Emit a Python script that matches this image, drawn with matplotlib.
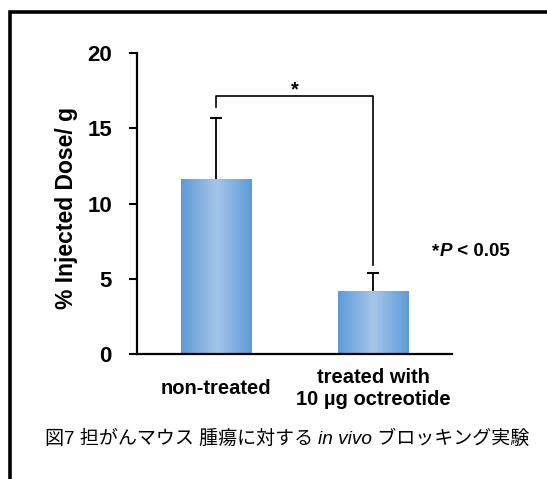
import numpy as np
import matplotlib
matplotlib.use("Agg")
import matplotlib.pyplot as plt
from matplotlib.lines import Line2D
from matplotlib.colors import LinearSegmentedColormap

plt.rcParams['font.family'] = ['Liberation Sans', 'Noto Sans CJK JP', 'DejaVu Sans']

# ---- data ----
categories = ["non-treated", "treated with\n10 \u00b5g octreotide"]
values = [11.6, 4.2]
errors = [4.1, 1.2]
y_ticks = [0, 5, 10, 15, 20]
ylabel = "% Injected Dose/ g"
caption_a = "図7 担がんマウス 腫瘍に対する "
caption_b = "in vivo"
caption_c = " ブロッキング実験"

W, H = 547, 479
fig = plt.figure(figsize=(W / 100, H / 100), dpi=100)
ax = fig.add_axes([137 / W, 1 - 354 / H, (452 - 137) / W, (354 - 53) / H])

x = np.arange(len(values))
vals = np.array(values)
errs = np.array(errors)
bw = 0.445

# gradient bars
cmap = LinearSegmentedColormap.from_list(
    "barg", [(0.0, "#5f9ad8"), (0.5, "#a4c6ea"), (1.0, "#5f9ad8")])
grad = np.linspace(0, 1, 256).reshape(1, -1)
bars = ax.bar(x, vals, width=bw, color="none", edgecolor="none", zorder=2)
for b in bars:
    x0, w, h = b.get_x(), b.get_width(), b.get_height()
    im = ax.imshow(grad, cmap=cmap, extent=[x0, x0 + w, 0, h], aspect="auto",
                   zorder=2, interpolation="bicubic")
    im.set_clip_path(b)

# error bars (upper only)
ax.vlines(x, vals, vals + errs, color="black", lw=1.3, zorder=3)
ax.plot(x, vals + errs, ls="none", marker="_", ms=8, mew=1.5, color="black", zorder=3)

# significance bracket
tops = vals + errs
br_top = tops.max() + 1.45
ax.plot([x[0], x[0], x[1], x[1]], [tops[0] + 0.7, br_top, br_top, tops[1] + 0.5],
        color="black", lw=1.2, zorder=3)
ax.text((x[0] + x[1]) / 2, br_top - 0.25, "*", ha="center", va="bottom",
        fontsize=14.5, fontweight="bold")

ax.set_xlim(-0.5, 1.5)
ax.set_ylim(0, 20)
ax.set_yticks(y_ticks)
ax.set_xticks(x, categories, va="center", ha="center", multialignment="center")

for s in ["top", "right"]:
    ax.spines[s].set_visible(False)
for s in ["left", "bottom"]:
    ax.spines[s].set_linewidth(1.6)
ax.tick_params(axis="y", direction="out", length=6, width=1.5, pad=12, labelsize=16)
ax.tick_params(axis="x", length=0, pad=25, labelsize=14.5)
for t in ax.get_yticklabels() + ax.get_xticklabels():
    t.set_fontweight("bold")

fig.text(67 / W, 1 - 208 / H, ylabel, rotation=90, ha="center", va="center",
         fontsize=16.5, fontweight="bold")

# P-value note
t1 = ax.text(0.937, 0.339, "*", transform=ax.transAxes, ha="left", va="center",
             fontsize=13.5, fontweight="bold")
t2 = ax.annotate("P", xy=(1, 0), xycoords=t1, ha="left", va="bottom",
                 fontsize=13.5, fontweight="bold", fontstyle="italic", annotation_clip=False)
ax.annotate(" < 0.05", xy=(1, 0), xycoords=t2, ha="left", va="bottom",
            fontsize=13.5, fontweight="bold", annotation_clip=False)

# caption
c1 = fig.text(45 / W, 1 - 439 / H, caption_a, ha="left", va="center", fontsize=13.7)
c2 = ax.annotate(caption_b, xy=(1, 0), xycoords=c1, ha="left", va="bottom",
                 fontsize=13.7, fontstyle="italic", annotation_clip=False)
ax.annotate(caption_c, xy=(1, 0), xycoords=c2, ha="left", va="bottom",
            fontsize=13.7, annotation_clip=False)

# outer frame (left and top edges)
fig.add_artist(Line2D([9.5 / W, 9.5 / W, 1.0], [0.0, 1 - 11.5 / H, 1 - 11.5 / H],
                      transform=fig.transFigure, color="black", lw=2.6,
                      solid_joinstyle="miter"))

fig.savefig("out.png", dpi=100)
